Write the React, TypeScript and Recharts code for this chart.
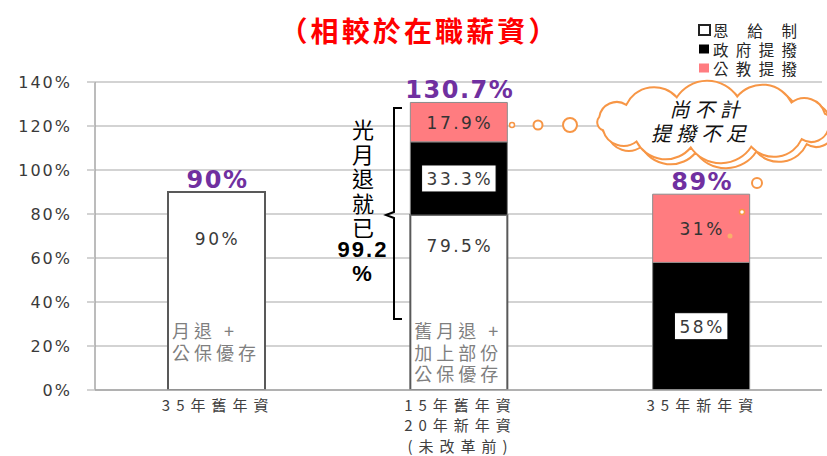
import React from 'react';
import { BarChart, Bar, XAxis, YAxis, CartesianGrid, LabelList } from 'recharts';

// ---------- data ----------
const categories: string[][] = [
  ['35年舊年資'],
  ['15年舊年資', '20年新年資', '(未改革前)'],
  ['35年新年資'],
];
const pensionValues = [90, 79.5, 0]; // 恩給制
const governmentValues = [0, 33.3, 58]; // 政府提撥
const employeeValues = [0, 17.9, 31]; // 公教提撥
const totalLabels = ['90%', '130.7%', '89%'];
const barNotes: string[][] = [['月退 +', '公保優存'], ['舊月退 +', '加上部份', '公保優存'], []];
const yTicks = [0, 20, 40, 60, 80, 100, 120, 140];
const seriesNames = ['恩 給 制', '政府提撥', '公教提撥'];
const titleText = '（相較於在職薪資）';
const bracketLines = ['光', '月', '退', '就', '已', '99.2', '%'];
const cloudLines = ['尚不計', '提撥不足'];

const names = categories.map((lines) => lines.join('\n'));
const data = categories.map((lines, i) => ({
  name: names[i],
  pension: pensionValues[i],
  government: governmentValues[i],
  employee: employeeValues[i],
}));

// ---------- styles ----------
const CJK = '"Noto Sans CJK TC", "Noto Sans CJK SC", "Noto Sans", sans-serif';
const NUM = '"DejaVu Sans", Verdana, sans-serif';
const PINK = '#FF7C80';
const PURPLE = '#7030A0';
const ORANGE = '#F79646';
const GRID = '#C4C4C4';
const LABEL = '#3A3A3A';

const seriesStyles = [
  { fill: '#FFFFFF' },
  { fill: '#000000' },
  { fill: PINK },
];

const fmt = (v: number) => `${v}%`;

const vbOf = (props: any) => {
  const vb = props.viewBox ?? props;
  return { x: Number(vb.x), y: Number(vb.y), width: Number(vb.width), height: Number(vb.height) };
};
const idxOf = (props: any) => names.indexOf(String(props.value));

const TotalText = ({ x, y, width, i }: { x: number; y: number; width: number; i: number }) => (
  <text x={x + width / 2 + 1} y={y - 4} textAnchor="middle" fontSize={24} fontWeight="bold"
    letterSpacing={1.5} fill={PURPLE} fontFamily={NUM}>{totalLabels[i]}</text>
);

const PensionLabel = (props: any) => {
  const { x, y, width, height } = vbOf(props);
  const i = idxOf(props);
  if (i < 0) return null;
  const v = pensionValues[i];
  if (!v) return null;
  const cx = x + width / 2;
  const notes = barNotes[i] || [];
  const topOffset = i === 0 ? 47 : 31;
  const isTop = !governmentValues[i] && !employeeValues[i];
  return (
    <g>
      <text x={cx + 1} y={y + topOffset} textAnchor="middle" dominantBaseline="central" fontSize={17}
        letterSpacing={2.5} fill={LABEL} fontFamily={NUM}>{fmt(v)}</text>
      {notes.map((t, j) => (
        <text key={j} x={x + 4} y={y + height - 60 + j * 21.5} dominantBaseline="central" fontSize={18}
          letterSpacing={4} fill="#7F7F7F" fontFamily={CJK}>{t}</text>
      ))}
      {isTop && <TotalText x={x} y={y} width={width} i={i} />}
    </g>
  );
};

const GovernmentLabel = (props: any) => {
  const { x, y, width, height } = vbOf(props);
  const i = idxOf(props);
  if (i < 0) return null;
  const v = governmentValues[i];
  if (!v) return null;
  const s = fmt(v);
  const bw = s.length * 10.5 + 22;
  const bh = 27;
  const cx = x + width / 2;
  const cy = y + height / 2;
  const isTop = !employeeValues[i];
  return (
    <g>
      <rect x={cx - bw / 2} y={cy - bh / 2} width={bw} height={bh} fill="#FFFFFF" stroke="#000" strokeWidth={1} />
      <text x={cx + 1} y={cy + 1} textAnchor="middle" dominantBaseline="central" fontSize={17}
        letterSpacing={2.5} fill={LABEL} fontFamily={NUM}>{s}</text>
      {isTop && <TotalText x={x} y={y} width={width} i={i} />}
    </g>
  );
};

const EmployeeLabel = (props: any) => {
  const { x, y, width, height } = vbOf(props);
  const i = idxOf(props);
  if (i < 0) return null;
  const v = employeeValues[i];
  if (!v) return null;
  return (
    <g>
      <text x={x + width / 2 + 1} y={y + height / 2 + 1} textAnchor="middle" dominantBaseline="central" fontSize={17}
        letterSpacing={2.5} fill="#333" fontFamily={NUM}>{fmt(v)}</text>
      <TotalText x={x} y={y} width={width} i={i} />
    </g>
  );
};

const XTick = (props: any) => {
  const { x, y, payload } = props;
  const lines = String(payload.value).split('\n');
  return (
    <g>
      {lines.map((l, i) => (
        <text key={i} x={x + 2} y={y + 14 + i * 20.5} textAnchor="middle" dominantBaseline="central"
          fontSize={15} letterSpacing={6} fill="#404040" fontFamily={CJK}>{l}</text>
      ))}
    </g>
  );
};

const YTick = (props: any) => {
  const { x, y, payload } = props;
  return (
    <text x={x} y={y} textAnchor="end" dominantBaseline="central" fontSize={16} letterSpacing={2}
      fill={LABEL} fontFamily={NUM}>{fmt(payload.value)}</text>
  );
};

function cloudPath(cx: number, cy: number, rx: number, ry: number, n: number, rot: number) {
  const pts: number[][] = [];
  for (let k = 0; k < n; k++) {
    const a = (k / n) * Math.PI * 2 + rot;
    pts.push([cx + rx * Math.cos(a), cy + ry * Math.sin(a)]);
  }
  let d = `M ${pts[0][0].toFixed(1)} ${pts[0][1].toFixed(1)}`;
  for (let k = 0; k < n; k++) {
    const p = pts[k];
    const q = pts[(k + 1) % n];
    const c = Math.hypot(q[0] - p[0], q[1] - p[1]);
    const r = c * 0.6;
    d += ` A ${r.toFixed(1)} ${r.toFixed(1)} 0 0 1 ${q[0].toFixed(1)} ${q[1].toFixed(1)}`;
  }
  return d + ' Z';
}

const Overlay = () => (
  <svg width={827} height={456} style={{ position: 'absolute', left: 0, top: 0, pointerEvents: 'none' }}>
    {/* title */}
    <text x={418} y={30} textAnchor="middle" dominantBaseline="central" fontSize={28} fontWeight="bold"
      fill="#FF0000" fontFamily={CJK} textLength={277} lengthAdjust="spacing">{titleText}</text>

    {/* legend */}
    {seriesNames.map((n, i) => {
      const cy = 30 + i * 19;
      const st = seriesStyles[i];
      return (
        <g key={n}>
          {i === 0 ? (
            <rect x={699} y={cy - 5} width={11} height={10} fill="#fff" stroke="#222" strokeWidth={2} />
          ) : (
            <rect x={699} y={cy - 4.5} width={10} height={9} fill={st.fill} />
          )}
          <text x={713} y={cy} dominantBaseline="central" fontSize={15.5} fill="#262626" fontFamily={CJK}
            textLength={84} lengthAdjust="spacing">{n}</text>
        </g>
      );
    })}

    {/* bracket */}
    <path d="M 402 108 L 394 108 L 394 212 L 386 215 L 394 218 L 394 319 L 402 319" fill="none" stroke="#000" strokeWidth={2} />
    {bracketLines.map((t, i) => {
      const yy = i < 5 ? 128 + i * 24.5 : 249 + (i - 5) * 24;
      const isNum = i >= 5;
      return (
        <text key={i} x={363} y={yy} textAnchor="middle" dominantBaseline="central" fontSize={22}
          fontWeight={isNum ? 'bold' : 'normal'} fill="#000" fontFamily={isNum ? '"Liberation Sans", Arial, sans-serif' : CJK}
          letterSpacing={isNum ? 2 : 0}>{t}</text>
      );
    })}

    {/* thought bubbles */}
    <circle cx={512} cy={125} r={2.5} fill="#fff" stroke={ORANGE} strokeWidth={1.5} />
    <circle cx={538} cy={125} r={4.5} fill="#fff" stroke={ORANGE} strokeWidth={2} />
    <circle cx={570} cy={125} r={7} fill="#fff" stroke={ORANGE} strokeWidth={2} />
    <circle cx={757} cy={183} r={5} fill="#fff" stroke={ORANGE} strokeWidth={2} />
    <circle cx={742} cy={212} r={2.5} fill="#fff" stroke={ORANGE} strokeWidth={1.5} />
    <circle cx={730} cy={236} r={2.5} fill="#F9B06A" stroke="none" />

    {/* cloud */}
    <path d={cloudPath(716, 124, 117, 26, 12, 0.2)} fill="#fff" stroke={ORANGE} strokeWidth={2} transform="translate(3 3)" />
    <path d={cloudPath(714, 122, 117, 26, 12, 0.2)} fill="#fff" stroke={ORANGE} strokeWidth={2} />
    {cloudLines.map((t, i) => (
      <text key={i} x={i === 0 ? 707 : 701} y={108 + i * 24} textAnchor="middle" dominantBaseline="central"
        fontSize={20} fontStyle="italic" fill="#111" fontFamily={CJK} letterSpacing={5}>{t}</text>
    ))}
  </svg>
);

export default function App() {
  return (
    <div style={{ position: 'absolute', left: 0, top: 0, width: 827, height: 456, background: '#fff' }}>
      <BarChart width={827} height={456} data={data} margin={{ top: 82, right: 5, bottom: 6, left: 0 }} barSize={97}>
        <CartesianGrid vertical={false} stroke={GRID} strokeWidth={1.5} />
        <XAxis dataKey="name" tick={<XTick />} tickLine={false} tickSize={0} tickMargin={0} height={60}
          axisLine={{ stroke: '#A6A6A6', strokeWidth: 1.5 }} interval={0} />
        <YAxis domain={[0, 140]} ticks={yTicks} width={95} tick={<YTick />} tickSize={8} tickMargin={15}
          tickLine={{ stroke: GRID, strokeWidth: 1.5 }} axisLine={{ stroke: '#A6A6A6', strokeWidth: 1.5 }} allowDataOverflow />
        <Bar dataKey="pension" name={seriesNames[0]} stackId="a" fill={seriesStyles[0].fill} stroke="#595959" strokeWidth={2} isAnimationActive={false}>
          <LabelList dataKey="name" content={PensionLabel} />
        </Bar>
        <Bar dataKey="government" name={seriesNames[1]} stackId="a" fill={seriesStyles[1].fill} stroke="#7F7F7F" strokeWidth={1} isAnimationActive={false}>
          <LabelList dataKey="name" content={GovernmentLabel} />
        </Bar>
        <Bar dataKey="employee" name={seriesNames[2]} stackId="a" fill={seriesStyles[2].fill} stroke="#8C8C8C" strokeWidth={1} isAnimationActive={false}>
          <LabelList dataKey="name" content={EmployeeLabel} />
        </Bar>
      </BarChart>
      <Overlay />
    </div>
  );
}
